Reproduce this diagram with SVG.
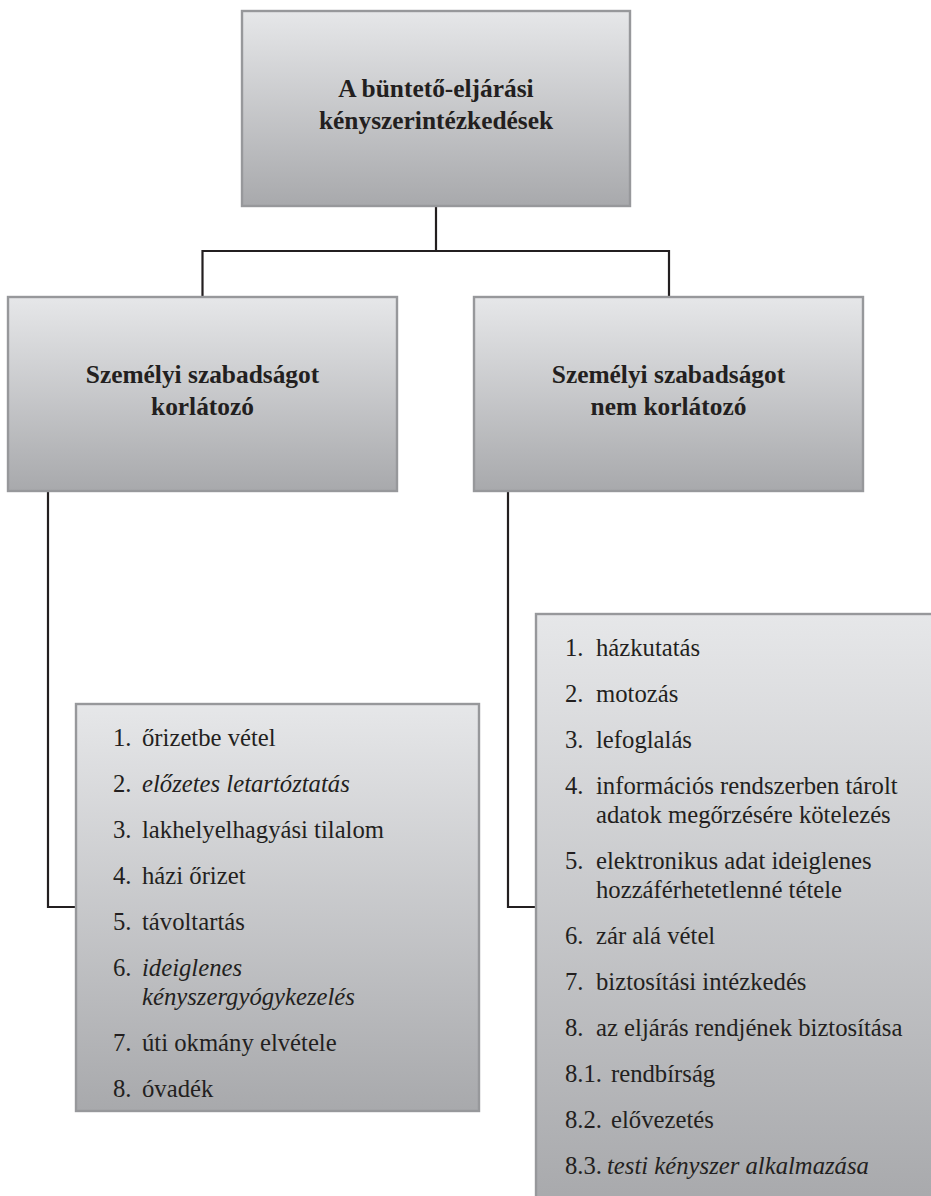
<svg xmlns="http://www.w3.org/2000/svg" width="931" height="1196" viewBox="0 0 931 1196">
<defs>
<linearGradient id="g" x1="0" y1="0" x2="0" y2="1">
<stop offset="0" stop-color="#e6e7e9"/>
<stop offset="1" stop-color="#a8a9ac"/>
</linearGradient>
<style>
.box{fill:url(#g);stroke:#97989b;stroke-width:2.4}
.c{fill:none;stroke:#231f20;stroke-width:2.2}
.h{font-family:'Liberation Serif',serif;font-weight:bold;font-size:25.4px;fill:#231f20;text-anchor:middle}
.t{font-family:'Liberation Serif',serif;font-size:24.7px;fill:#231f20}
.i{font-style:italic}
</style>
</defs>
<rect width="931" height="1196" fill="#ffffff"/>
<g id="connectors">
<path class="c" d="M436 206V251M202.5 251H669M202.5 250V297M669 250V297"/>
<path class="c" d="M48 491V907H76"/>
<path class="c" d="M508 491V907H536"/>
</g>
<g id="root">
<rect class="box" x="242" y="11" width="388" height="195"/>
<text class="h" x="436" y="97">A büntető-eljárási</text>
<text class="h" x="436" y="129">kényszerintézkedések</text>
</g>
<g id="left">
<rect class="box" x="8" y="297" width="389" height="194"/>
<text class="h" x="202.5" y="383">Személyi szabadságot</text>
<text class="h" x="202.5" y="415">korlátozó</text>
</g>
<g id="right">
<rect class="box" x="474" y="297" width="389" height="194"/>
<text class="h" x="668.5" y="383">Személyi szabadságot</text>
<text class="h" x="668.5" y="415">nem korlátozó</text>
</g>
<g id="left-list">
<rect class="box" x="76" y="704" width="403" height="407"/>
<text class="t" x="113" y="746">1.</text><text class="t" x="142" y="746">őrizetbe vétel</text>
<text class="t" x="113" y="792">2.</text><text class="t i" x="142" y="792">előzetes letartóztatás</text>
<text class="t" x="113" y="838">3.</text><text class="t" x="142" y="838">lakhelyelhagyási tilalom</text>
<text class="t" x="113" y="884">4.</text><text class="t" x="142" y="884">házi őrizet</text>
<text class="t" x="113" y="930">5.</text><text class="t" x="142" y="930">távoltartás</text>
<text class="t" x="113" y="976">6.</text><text class="t i" x="142" y="976">ideiglenes</text>
<text class="t i" x="142" y="1005">kényszergyógykezelés</text>
<text class="t" x="113" y="1051">7.</text><text class="t" x="142" y="1051">úti okmány elvétele</text>
<text class="t" x="113" y="1097">8.</text><text class="t" x="142" y="1097">óvadék</text>
</g>
<g id="right-list">
<rect class="box" x="536" y="614" width="400" height="590"/>
<text class="t" x="565" y="656">1.</text><text class="t" x="596" y="656">házkutatás</text>
<text class="t" x="565" y="702">2.</text><text class="t" x="596" y="702">motozás</text>
<text class="t" x="565" y="748">3.</text><text class="t" x="596" y="748">lefoglalás</text>
<text class="t" x="565" y="794">4.</text><text class="t" x="596" y="794">információs rendszerben tárolt</text>
<text class="t" x="596" y="823">adatok megőrzésére kötelezés</text>
<text class="t" x="565" y="869">5.</text><text class="t" x="596" y="869">elektronikus adat ideiglenes</text>
<text class="t" x="596" y="898">hozzáférhetetlenné tétele</text>
<text class="t" x="565" y="944">6.</text><text class="t" x="596" y="944">zár alá vétel</text>
<text class="t" x="565" y="990">7.</text><text class="t" x="596" y="990">biztosítási intézkedés</text>
<text class="t" x="565" y="1036">8.</text><text class="t" x="596" y="1036">az eljárás rendjének biztosítása</text>
<text class="t" x="565" y="1082">8.1.</text><text class="t" x="611" y="1082">rendbírság</text>
<text class="t" x="565" y="1128">8.2.</text><text class="t" x="611" y="1128">elővezetés</text>
<text class="t" x="565" y="1174">8.3.</text><text class="t i" x="607" y="1174">testi kényszer alkalmazása</text>
</g>
</svg>
